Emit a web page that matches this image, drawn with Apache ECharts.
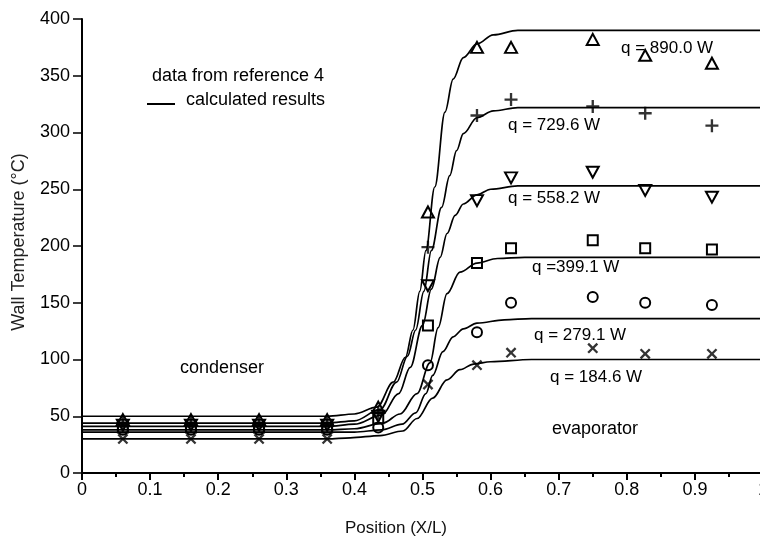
<!DOCTYPE html>
<html>
<head>
<meta charset="utf-8">
<script src="https://cdn.jsdelivr.net/npm/echarts@6/dist/echarts.min.js"></script>
<style>
html,body{margin:0;padding:0;background:#fff;}
#chart{width:760px;height:542px;}
</style>
</head>
<body>
<div id="chart"></div>
<script>
// ---- data ----
const positions = [0.06, 0.16, 0.26, 0.36, 0.435, 0.508, 0.58, 0.63, 0.75, 0.827, 0.925];

const meas890 = [47, 47, 47, 47, 58, 230, 375, 375, 382, 368, 361];
const meas730 = [44, 44, 44, 44, 53, 199, 315, 329, 323, 317, 306];
const meas558 = [42, 42, 42, 42, 50, 165, 240, 260, 265, 249, 243];
const meas399 = [40, 40, 40, 40, 48, 130, 185, 198, 205, 198, 197];
const meas279 = [38, 38, 38, 38, 40, 95, 124, 150, 155, 150, 148];
const meas185 = [30, 30, 30, 30, null, 78, 95, 106, 110, 105, 105];

const calc890 = [[0,50],[0.36,50],[0.40,52],[0.433,58],[0.457,80],[0.475,102],[0.486,126],[0.496,160],[0.505,196],[0.518,252],[0.533,318],[0.545,347],[0.56,366],[0.58,378],[0.604,386],[0.64,390],[1,390]];
const calc730 = [[0,44],[0.36,44],[0.40,46],[0.438,56],[0.462,80],[0.478,103],[0.49,126],[0.502,160],[0.513,196],[0.528,234],[0.54,262],[0.55,284],[0.56,299],[0.58,313],[0.604,319],[0.64,322],[1,322]];
const calc558 = [[0,41],[0.36,41],[0.40,43],[0.44,51],[0.465,70],[0.482,93],[0.50,130],[0.513,162],[0.526,190],[0.536,211],[0.548,227],[0.56,237],[0.58,245],[0.60,250],[0.64,253],[1,253]];
const calc399 = [[0,38],[0.36,38],[0.40,39],[0.442,44],[0.467,52],[0.492,70],[0.511,97],[0.523,128],[0.536,158],[0.555,177],[0.58,185],[0.61,189],[0.65,190],[1,190]];
const calc279 = [[0,36],[0.36,36],[0.40,36],[0.44,38],[0.47,43],[0.49,53],[0.505,70],[0.515,86],[0.53,107],[0.545,120],[0.56,127],[0.58,132],[0.62,135],[0.66,136],[1,136]];
const calc185 = [[0,30],[0.36,30],[0.394,31],[0.438,33],[0.471,37],[0.492,48],[0.515,66],[0.536,82],[0.555,91],[0.575,96],[0.60,98],[0.66,100],[1,100]];

const xTicks = ['0','0.1','0.2','0.3','0.4','0.5','0.6','0.7','0.8','0.9','1'];
const yTicks = ['0','50','100','150','200','250','300','350','400'];

const curveLabels = ['q = 890.0 W','q = 729.6 W','q = 558.2 W','q =399.1 W','q = 279.1 W','q = 184.6 W'];

// ---- chart ----
const FONT = "'Liberation Sans', Arial, Helvetica, sans-serif";
const chart = echarts.init(document.getElementById('chart'), null, {renderer:'canvas'});

function pairs(vals){
  const out = [];
  vals.forEach((v,i)=>{ if(v!==null) out.push([positions[i], v]); });
  return out;
}
const plusPath = 'path://M4.1,0H5.9V4.1H10V5.9H5.9V10H4.1V5.9H0V4.1H4.1Z';

function lineSeries(d){
  return {type:'line', data:d, showSymbol:false, smooth:0.35, smoothMonotone:'x',
    lineStyle:{color:'#000', width:1.7}, z:2, silent:true};
}
function scatterSeries(d, symbol, size, opts){
  return Object.assign({type:'scatter', data:d, symbol:symbol, symbolSize:size, z:3,
    itemStyle:{color:'rgba(255,255,255,0)', borderColor:'#000', borderWidth:2, opacity:1}}, opts||{});
}

const labelPos = [[621,50],[508,127],[508,200],[532,269],[534,337],[550,379]];

const graphics = [
  {type:'text', left:152, top:67, style:{text:'data from reference 4', font:'18px '+FONT, fill:'#000'}},
  {type:'line', shape:{x1:147,y1:104,x2:175,y2:104}, style:{stroke:'#000', lineWidth:2}},
  {type:'text', left:186, top:91, style:{text:'calculated results', font:'18px '+FONT, fill:'#000'}},
  {type:'text', left:180, top:359, style:{text:'condenser', font:'18px '+FONT, fill:'#000'}},
  {type:'text', left:552, top:420, style:{text:'evaporator', font:'18px '+FONT, fill:'#000'}},
  {type:'text', x:396, y:528, style:{text:'Position (X/L)', font:'17px '+FONT, fill:'#111', align:'center', verticalAlign:'middle'}},
  {type:'text', x:19, y:242, rotation:Math.PI/2, style:{text:'Wall Temperature (\u00B0C)', font:'18px '+FONT, fill:'#222', align:'center', verticalAlign:'middle'}}
];
curveLabels.forEach((t,i)=>{
  graphics.push({type:'text', left:labelPos[i][0], top:labelPos[i][1]-10, z:10,
    style:{text:t, font:'17px '+FONT, fill:'#000'}});
});

const option = {
  animation:false,
  backgroundColor:'#fff',
  textStyle:{fontFamily:FONT},
  grid:{left:82, width:681, top:19, bottom:69, containLabel:false, outerBoundsMode:'none'},
  xAxis:[{
    type:'value', min:0, max:1, interval:0.1,
    axisLine:{show:true, onZero:false, lineStyle:{color:'#000', width:2}},
    axisTick:{show:true, length:7, lineStyle:{color:'#000', width:2}},
    minorTick:{show:true, splitNumber:2, length:4, lineStyle:{color:'#000', width:2}},
    splitLine:{show:false},
    axisLabel:{fontSize:18, color:'#000', margin:8, fontFamily:FONT,
      formatter:(v)=>xTicks[Math.round(v*10)]}
  },{
    type:'value', position:'top', min:0, max:1,
    axisLine:{show:true, lineStyle:{color:'#000', width:2}},
    axisTick:{show:false}, axisLabel:{show:false}, splitLine:{show:false}
  }],
  yAxis:{
    type:'value', min:0, max:400, interval:50,
    axisLine:{show:true, onZero:false, lineStyle:{color:'#000', width:2}},
    axisTick:{show:true, length:9, lineStyle:{color:'#000', width:1.5}},
    splitLine:{show:false},
    axisLabel:{fontSize:18, color:'#000', margin:12, fontFamily:FONT,
      formatter:(v)=>yTicks[Math.round(v/50)]}
  },
  series:[
    lineSeries(calc890), lineSeries(calc730), lineSeries(calc558),
    lineSeries(calc399), lineSeries(calc279), lineSeries(calc185),
    scatterSeries(pairs(meas890), 'triangle', [12,11]),
    scatterSeries(pairs(meas730), plusPath, 13, {itemStyle:{color:'#000', borderWidth:0}}),
    scatterSeries(pairs(meas558), 'triangle', [12,11], {symbolRotate:180}),
    scatterSeries(pairs(meas399), 'rect', 10),
    scatterSeries(pairs(meas279), 'circle', 10),
    scatterSeries(pairs(meas185), plusPath, 13, {symbolRotate:45, itemStyle:{color:'#000', borderWidth:0}})
  ],
  graphic:graphics
};
chart.setOption(option);
</script>
</body>
</html>
